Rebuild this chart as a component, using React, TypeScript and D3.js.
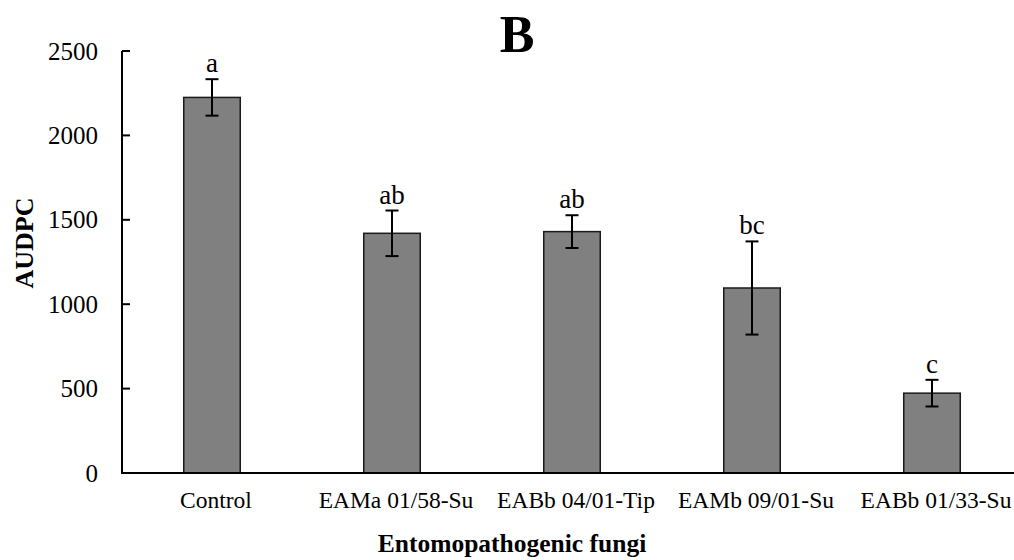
import React from "react";
import * as d3 from "d3";

const categories = ["Control", "EAMa 01/58-Su", "EABb 04/01-Tip", "EAMb 09/01-Su", "EABb 01/33-Su"];
const values = [2225, 1420, 1430, 1096, 473];
const errors = [108, 135, 97, 276, 79];
const letters = ["a", "ab", "ab", "bc", "c"];
const yTicks = [0, 500, 1000, 1500, 2000, 2500];

const W = 1014;
const H = 560;
const FONT = "'Liberation Serif', 'Times New Roman', serif";

export default function App() {
  const x = d3.scaleBand<string>().domain(categories).range([122, 1022]).paddingInner(0.686).paddingOuter(0.343);
  const y = d3.scaleLinear().domain([0, 2500]).range([473, 51]);
  const bw = x.bandwidth();

  return (
    <svg width={W} height={H} style={{ position: "absolute", left: 0, top: 0, background: "#fff" }}>
      <text x={517} y={52} textAnchor="middle" fontFamily={FONT} fontWeight="bold" fontSize={52}>B</text>
      {categories.map((c, i) => {
        const cx = (x(c) as number) + bw / 2;
        const top = y(values[i] + errors[i]);
        const bot = y(values[i] - errors[i]);
        return (
          <g key={c}>
            <rect x={x(c)} y={y(values[i])} width={bw} height={y(0) - y(values[i])} fill="#808080" stroke="#1a1a1a" strokeWidth={1.5} />
            <line x1={cx} x2={cx} y1={top} y2={bot} stroke="#000" strokeWidth={2} />
            <line x1={cx - 6.5} x2={cx + 6.5} y1={top} y2={top} stroke="#000" strokeWidth={2} />
            <line x1={cx - 6.5} x2={cx + 6.5} y1={bot} y2={bot} stroke="#000" strokeWidth={2} />
            <text x={cx} y={top - 7} textAnchor="middle" fontFamily={FONT} fontSize={27}>{letters[i]}</text>
            <text x={cx + 4} y={508} textAnchor="middle" fontFamily={FONT} fontSize={23.5}>{c}</text>
          </g>
        );
      })}
      <line x1={122} x2={122} y1={y(2500)} y2={y(0)} stroke="#000" strokeWidth={2} />
      <line x1={121} x2={W} y1={y(0)} y2={y(0)} stroke="#000" strokeWidth={2} />
      {yTicks.map((t) => (
        <g key={t}>
          <line x1={122} x2={130} y1={y(t)} y2={y(t)} stroke="#000" strokeWidth={2} />
          <text x={98} y={y(t)} dy="0.34em" textAnchor="end" fontFamily={FONT} fontSize={25}>{t}</text>
        </g>
      ))}
      <text transform={`translate(33,243) rotate(-90)`} textAnchor="middle" fontFamily={FONT} fontWeight="bold" fontSize={26}>AUDPC</text>
      <text x={512} y={552} textAnchor="middle" fontFamily={FONT} fontWeight="bold" fontSize={25.5}>Entomopathogenic fungi</text>
    </svg>
  );
}
